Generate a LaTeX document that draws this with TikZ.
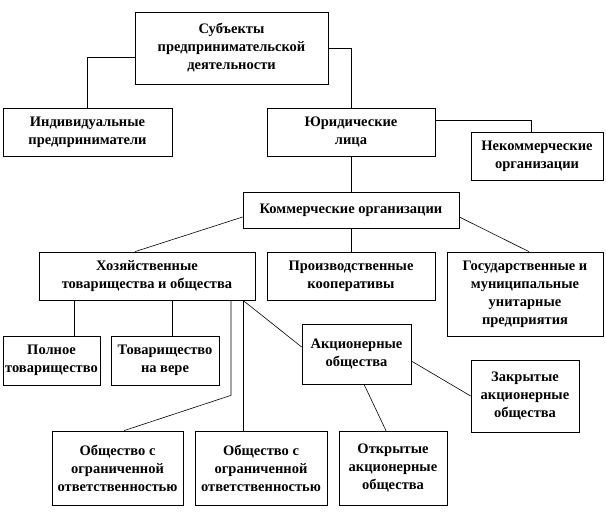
\documentclass[tikz,border=0pt]{standalone}
\usepackage{fontspec}
\setmainfont{Liberation Serif}[BoldFont={Liberation Serif Bold}]
\usetikzlibrary{calc}

\begin{document}
\begin{tikzpicture}[x=1pt,y=-1pt,
  box/.style={draw,line width=0.7pt,align=center,inner sep=0pt,
    font=\fontsize{14.5}{18}\selectfont\bfseries},
  link/.style={line width=0.6pt}]
\useasboundingbox (0,0) rectangle (606,516);
\node[box,minimum width=193pt,minimum height=72pt] (subj) at (231.5,48)
 {Субъекты\\ предпринимательской\\ деятельности};
\node[box,minimum width=169pt,minimum height=48pt] (ip) at (87.5,132)
 {Индивидуальные\\ предприниматели};
\node[box,minimum width=168pt,minimum height=48pt] (jur) at (351,132)
 {Юридические\\ лица};
\node[box,minimum width=132pt,minimum height=48pt] (nko) at (537,156)
 {Некоммерческие\\ организации};
\node[box,minimum width=216pt,minimum height=36pt] (kom) at (351,210)
 {Коммерческие организации};
\node[box,minimum width=216pt,minimum height=48pt] (hoz) at (147,276)
 {Хозяйственные\\ товарищества и общества};
\node[box,minimum width=168pt,minimum height=48pt] (koop) at (351,276)
 {Производственные\\ кооперативы};
\node[box,minimum width=156pt,minimum height=84pt] (gup) at (525,294)
 {Государственные и\\ муниципальные\\ унитарные\\ предприятия};
\node[box,minimum width=97pt,minimum height=49pt] (poln) at (51.5,360.5)
 {Полное\\ товарищество};
\node[box,minimum width=108pt,minimum height=49pt] (vera) at (165,360.5)
 {Товарищество\\ на вере};
\node[box,minimum width=109pt,minimum height=60pt] (ao) at (356.5,354)
 {Акционерные\\ общества};
\node[box,minimum width=108pt,minimum height=72pt] (zao) at (525,396)
 {Закрытые\\ акционерные\\ общества};
\node[box,minimum width=131pt,minimum height=74pt] (ooo1) at (117.5,468)
 {Общество с\\ ограниченной\\ ответственностью};
\node[box,minimum width=132pt,minimum height=74pt] (ooo2) at (261,468)
 {Общество с\\ ограниченной\\ ответственностью};
\node[box,minimum width=108pt,minimum height=74pt] (oao) at (393,468)
 {Открытые\\ акционерные\\ общества};
% connectors
\draw[link] ([yshift=-9pt]subj.west) -| (ip.north);
\draw[link] (subj.east) -| (jur.north);
\draw[link] ([yshift=12pt]jur.east) -| ([xshift=-6pt]nko.north);
\draw[link] (jur.south) -- (kom.north);
\draw[link] ([yshift=-7pt]kom.west) -- ([xshift=-12pt]hoz.north);
\draw[link] (kom.south) -- (koop.north);
\draw[link] ([yshift=-7pt]kom.east) -- ([xshift=4pt]gup.north);
\draw[link] ([xshift=22.5pt]poln.north) -- ([xshift=22.5pt]poln.north |- hoz.south);
\draw[link] ([xshift=7pt]vera.north) -- ([xshift=7pt]vera.north |- hoz.south);
\coordinate (hk) at ($(hoz.south)+(84,95)$);
\draw[link] (hk |- hoz.south) -- (hk) -- ([xshift=6.5pt]ooo1.north);
\coordinate (hr) at ([xshift=-18pt]ooo2.north |- hoz.south);
\draw[link] (hr) -- ([xshift=-18pt]ooo2.north);
\draw[link] (hr) -- ([yshift=7pt]ao.west);
\draw[link] ([xshift=7.5pt]ao.south) -- ([xshift=-7pt]oao.north);
\draw[link] ([yshift=-7pt]ao.east) -- (zao.west);
\end{tikzpicture}
\end{document}
